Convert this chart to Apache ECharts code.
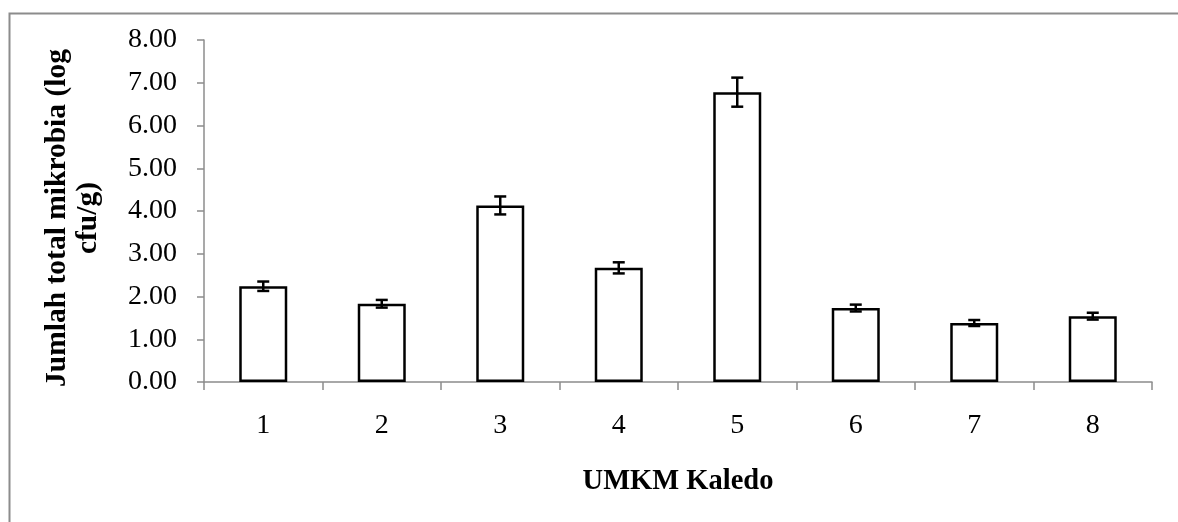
<!DOCTYPE html>
<html>
<head>
<meta charset="utf-8">
<script src="https://cdn.jsdelivr.net/npm/echarts@6/dist/echarts.min.js"></script>
<style>
html,body{margin:0;padding:0;background:#fff;}
#chart{width:1178px;height:522px;}
</style>
</head>
<body>
<div id="chart"></div>
<script>
var categories = ['1','2','3','4','5','6','7','8'];
var means = [2.24, 1.83, 4.13, 2.67, 6.78, 1.73, 1.38, 1.54];
var errors = [0.11, 0.09, 0.21, 0.13, 0.34, 0.08, 0.07, 0.08];
var yTicks = [0, 1, 2, 3, 4, 5, 6, 7, 8];
var xName = 'UMKM Kaledo';
var yName = 'Jumlah total mikrobia (log\ncfu/g)';

var errData = means.map(function (m, i) { return [i, m - errors[i], m + errors[i]]; });

var chart = echarts.init(document.getElementById('chart'));
var font = 'Liberation Serif, Times New Roman, serif';
chart.setOption({
  animation: false,
  backgroundColor: '#fff',
  graphic: [{
    type: 'rect', left: 7, top: 11, silent: true,
    shape: { x: 0, y: 0, width: 1300, height: 700 },
    style: { fill: 'none', stroke: '#8c8c8c', lineWidth: 2 }
  }],
  grid: { left: 204, right: 26, top: 40, bottom: 140 },
  xAxis: {
    type: 'category',
    data: categories,
    boundaryGap: true,
    name: xName,
    nameLocation: 'middle',
    nameGap: 85,
    nameTextStyle: { fontFamily: font, fontSize: 28.5, fontWeight: 'bold', color: '#000' },
    axisLine: { lineStyle: { color: '#8c8c8c', width: 1.5 } },
    axisTick: { show: true, length: 8, alignWithLabel: false, lineStyle: { color: '#8c8c8c', width: 1.5 } },
    axisLabel: { fontFamily: font, fontSize: 28, color: '#000', margin: 30 },
    splitLine: { show: false }
  },
  yAxis: {
    type: 'value',
    min: yTicks[0],
    max: yTicks[yTicks.length - 1],
    interval: 1,
    name: yName,
    nameLocation: 'middle',
    nameRotate: 90,
    nameGap: 100,
    nameTextStyle: { fontFamily: font, fontSize: 29.5, fontWeight: 'bold', color: '#000', lineHeight: 31, align: 'center', padding: [0, 14, 0, 0] },
    axisLine: { show: true, lineStyle: { color: '#8c8c8c', width: 1.5 } },
    axisTick: { show: true, length: 7, inside: false, lineStyle: { color: '#8c8c8c', width: 1.5 } },
    axisLabel: { fontFamily: font, fontSize: 28, color: '#000', margin: 27,
      formatter: function (v) { return v.toFixed(2); } },
    splitLine: { show: false }
  },
  series: [{
    type: 'bar',
    data: means,
    barWidth: 48,
    itemStyle: { color: '#fff', borderColor: '#000', borderWidth: 2.5 },
    z: 2
  }, {
    type: 'custom',
    data: errData,
    z: 5,
    renderItem: function (params, api) {
      var x = api.value(0);
      var lo = api.coord([x, api.value(1)]);
      var hi = api.coord([x, api.value(2)]);
      var hw = 6;
      var st = { stroke: '#000', lineWidth: 2.5 };
      return {
        type: 'group',
        children: [
          { type: 'line', shape: { x1: lo[0], y1: lo[1], x2: hi[0], y2: hi[1] }, style: st },
          { type: 'line', shape: { x1: hi[0] - hw, y1: hi[1], x2: hi[0] + hw, y2: hi[1] }, style: st },
          { type: 'line', shape: { x1: lo[0] - hw, y1: lo[1], x2: lo[0] + hw, y2: lo[1] }, style: st }
        ]
      };
    }
  }]
});
</script>
</body>
</html>
